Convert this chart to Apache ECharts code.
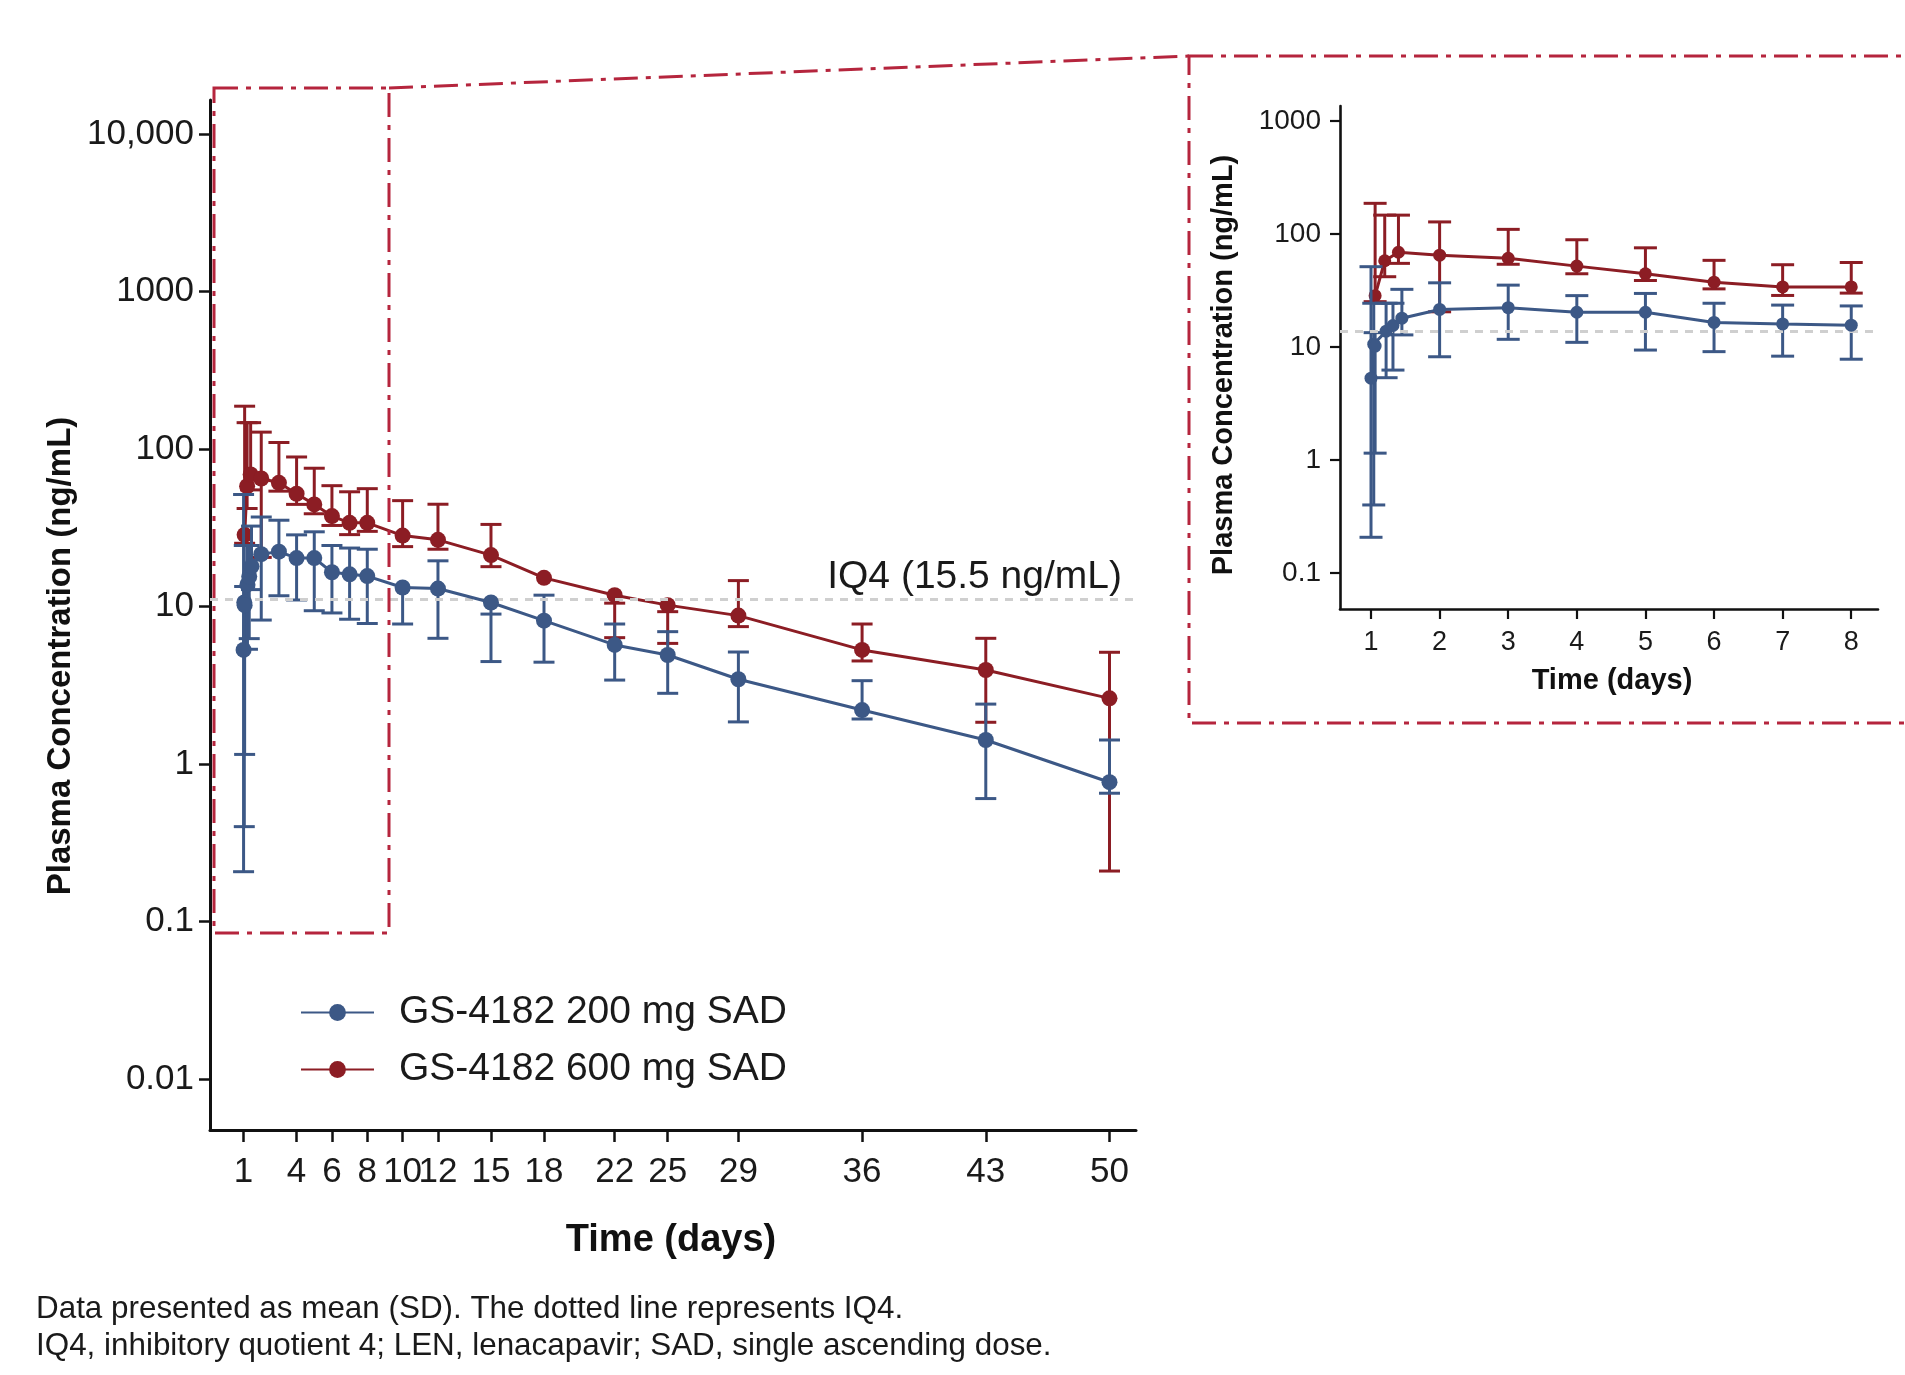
<!DOCTYPE html>
<html><head><meta charset="utf-8">
<script src="https://cdn.jsdelivr.net/npm/echarts@6/dist/echarts.min.js"></script>
<style>html,body{margin:0;padding:0;background:#fff}#c{width:1905px;height:1375px}</style>
</head><body><div id="c"></div>
<script>
// ---------------- data ----------------
const seriesNames = ['GS-4182 200 mg SAD', 'GS-4182 600 mg SAD'];

const blueDays = [1.0, 1.04, 1.06, 1.22, 1.32, 1.45, 2, 3, 4, 5, 6, 7, 8, 10, 12, 15, 18, 22, 25, 29, 36, 43, 50];
const blueMean = [5.3, 10.6, 10.2, 13.8, 15.5, 18.0, 21.5, 22.3, 20.3, 20.3, 16.5, 16.0, 15.6, 13.2, 13.0, 10.6, 8.13, 5.70, 4.92, 3.45, 2.20, 1.42, 0.766];
const blueLow = [0.207, 0.40, 1.15, 5.35, 6.25, 12.8, 8.2, 11.7, 11.0, 9.4, 9.1, 8.3, 7.8, 7.74, 6.28, 4.47, 4.43, 3.41, 2.81, 1.85, 1.93, 0.603, 0.652];
const blueHigh = [51.4, 24.4, 13.4, 24.4, 24.4, 32.4, 37.0, 35.3, 28.5, 29.8, 24.4, 23.5, 23.1, null, 19.5, 8.95, 11.8, 7.74, 6.92, 5.14, 3.38, 2.40, 1.42];

const redDays = [1.06, 1.2, 1.4, 2, 3, 4, 5, 6, 7, 8, 10, 12, 15, 18, 22, 25, 29, 36, 43, 50];
const redMean = [28.5, 58, 69, 65, 61, 52, 44.5, 37.5, 34, 34, 28.2, 26.5, 21.2, 15.2, 11.8, 10.2, 8.75, 5.30, 3.95, 2.61];
const redLow = [25.2, 41.9, 55, 20.5, 54, 44.5, 38.8, 32.7, 28.6, 30, 24.0, 23.1, 17.9, null, 6.34, 5.83, 7.45, 4.51, 1.84, 0.209];
const redHigh = [187, 147, 147, 128, 110, 89, 75.5, 58.5, 53.5, 56, 47.0, 44.6, 33.2, null, 10.5, 9.27, 14.6, 7.74, 6.28, 5.12];

const mainXTicks = [1, 4, 6, 8, 10, 12, 15, 18, 22, 25, 29, 36, 43, 50];
const insetXTicks = [1, 2, 3, 4, 5, 6, 7, 8];
const mainYTicks = [0.01, 0.1, 1, 10, 100, 1000, 10000];
const mainYLabels = ['0.01', '0.1', '1', '10', '100', '1000', '10,000'];
const insetYTicks = [0.1, 1, 10, 100, 1000];
const insetYLabels = ['0.1', '1', '10', '100', '1000'];

const iq4Main = 11.1;
const iq4Inset = 13.9;
const iq4Label = 'IQ4 (15.5 ng/mL)';
const insetMaxDay = 8.3;

// ---------------- styling ----------------
const FONT = 'Liberation Sans, Arial, Helvetica, sans-serif';
const BLUE = '#3c5886';
const RED = '#8c1d24';
const BOX = '#b5253d';
const INK = '#1a1a1a';

function pts(days, vals, maxDay) {
  const out = [];
  days.forEach((d, i) => { if (maxDay == null || d <= maxDay) out.push([d, vals[i]]); });
  return out;
}
function errData(days, mean, low, high, maxDay) {
  const out = [];
  days.forEach((d, i) => {
    if (maxDay != null && d > maxDay) return;
    const m = mean[i];
    out.push([d, low[i] == null ? m : low[i], high[i] == null ? m : high[i], m]);
  });
  return out;
}
function labelFor(ticks, labels) {
  return function (v) {
    let best = 0, bd = Infinity;
    ticks.forEach((t, i) => { const dd = Math.abs(Math.log10(t) - Math.log10(v)); if (dd < bd) { bd = dd; best = i; } });
    return labels[best];
  };
}
function errRender(capHalf, lw, color) {
  return function (params, api) {
    const x = api.value(0), lo = api.value(1), hi = api.value(2), m = api.value(3);
    const pm = api.coord([x, m]);
    const vals = [m, lo, hi];
    const top = api.coord([x, Math.max.apply(null, vals)])[1];
    const bot = api.coord([x, Math.min.apply(null, vals)])[1];
    const children = [{ type: 'line', shape: { x1: pm[0], y1: top, x2: pm[0], y2: bot }, style: { stroke: color, lineWidth: lw } }];
    [lo, hi].forEach(v => {
      if (v !== m) {
        const p = api.coord([x, v]);
        children.push({ type: 'line', shape: { x1: p[0] - capHalf, y1: p[1], x2: p[0] + capHalf, y2: p[1] }, style: { stroke: color, lineWidth: lw } });
      }
    });
    return { type: 'group', children: children };
  };
}

const chart = echarts.init(document.getElementById('c'), null, { renderer: 'canvas' });

const axisLineMain = { show: true, onZero: false, lineStyle: { color: '#111', width: 3 } };
const axisLineInset = { show: true, onZero: false, lineStyle: { color: '#111', width: 2.6 } };

const option = {
  animation: false,
  backgroundColor: '#ffffff',
  textStyle: { fontFamily: FONT },
  grid: [
    { left: 210, top: 100, width: 926, height: 1030, containLabel: false, outerBoundsMode: 'none' },
    { left: 1340, top: 106, width: 538, height: 503, containLabel: false, outerBoundsMode: 'none' }
  ],
  xAxis: [
    {
      gridIndex: 0, type: 'value', min: -0.9, max: 51.5,
      axisLine: axisLineMain,
      axisTick: { show: true, length: 12, lineStyle: { color: '#111', width: 2.5 }, customValues: mainXTicks },
      axisLabel: { show: true, customValues: mainXTicks, fontSize: 35, color: INK, margin: 25, fontFamily: FONT },
      splitLine: { show: false }, minorTick: { show: false }
    },
    {
      gridIndex: 1, type: 'value', min: 0.548, max: 8.39,
      axisLine: axisLineInset,
      axisTick: { show: true, length: 10, lineStyle: { color: '#111', width: 2.2 }, customValues: insetXTicks },
      axisLabel: { show: true, customValues: insetXTicks, fontSize: 27, color: INK, margin: 20, fontFamily: FONT },
      splitLine: { show: false }, minorTick: { show: false }
    }
  ],
  yAxis: [
    {
      gridIndex: 0, type: 'log', logBase: 10, min: 0.00474, max: 16450,
      axisLine: axisLineMain,
      axisTick: { show: true, length: 11, lineStyle: { color: '#111', width: 2.5 }, customValues: mainYTicks },
      axisLabel: { show: true, customValues: mainYTicks, fontSize: 35, color: INK, margin: 16, fontFamily: FONT, formatter: labelFor(mainYTicks, mainYLabels) },
      splitLine: { show: false }, minorTick: { show: false }
    },
    {
      gridIndex: 1, type: 'log', logBase: 10, min: 0.048, max: 1359,
      axisLine: axisLineInset,
      axisTick: { show: true, length: 10, lineStyle: { color: '#111', width: 2.2 }, customValues: insetYTicks },
      axisLabel: { show: true, customValues: insetYTicks, fontSize: 28, color: INK, margin: 19, fontFamily: FONT, formatter: labelFor(insetYTicks, insetYLabels) },
      splitLine: { show: false }, minorTick: { show: false }
    }
  ],
  legend: {
    data: seriesNames,
    orient: 'vertical',
    left: 300, top: 990,
    padding: 0,
    itemWidth: 73, itemHeight: 21, itemGap: 12,
    textStyle: { fontSize: 39, color: INK, fontFamily: FONT, lineHeight: 45, padding: [0, 0, 0, 20] },
    selectedMode: false
  },
  series: [
    {
      name: seriesNames[0], type: 'line', xAxisIndex: 0, yAxisIndex: 0,
      data: pts(blueDays, blueMean), symbol: 'circle', symbolSize: 16,
      itemStyle: { color: BLUE }, lineStyle: { color: BLUE, width: 3 }, z: 5,
      markLine: {
        silent: true, symbol: 'none', animation: false,
        lineStyle: { color: '#cfcfcf', width: 3, type: [8, 7] },
        label: { show: true, position: 'insideEndTop', formatter: iq4Label, fontSize: 39, color: INK, fontFamily: FONT, distance: [14, 3] },
        data: [{ yAxis: iq4Main }]
      }
    },
    {
      name: seriesNames[1], type: 'line', xAxisIndex: 0, yAxisIndex: 0,
      data: pts(redDays, redMean), symbol: 'circle', symbolSize: 16,
      itemStyle: { color: RED }, lineStyle: { color: RED, width: 3 }, z: 3
    },
    {
      name: 'blueSD', type: 'custom', xAxisIndex: 0, yAxisIndex: 0,
      data: errData(blueDays, blueMean, blueLow, blueHigh),
      encode: { x: 0, y: [1, 2, 3] }, renderItem: errRender(10.5, 3, BLUE), z: 4, silent: true
    },
    {
      name: 'redSD', type: 'custom', xAxisIndex: 0, yAxisIndex: 0,
      data: errData(redDays, redMean, redLow, redHigh),
      encode: { x: 0, y: [1, 2, 3] }, renderItem: errRender(10.5, 3, RED), z: 2, silent: true
    },
    // inset
    {
      name: seriesNames[0], type: 'line', xAxisIndex: 1, yAxisIndex: 1,
      data: pts(blueDays, blueMean, insetMaxDay), symbol: 'circle', symbolSize: 13,
      itemStyle: { color: BLUE }, lineStyle: { color: BLUE, width: 3 }, z: 5,
      markLine: {
        silent: true, symbol: 'none', animation: false,
        lineStyle: { color: '#cfcfcf', width: 3, type: [8, 7] },
        label: { show: false },
        data: [{ yAxis: iq4Inset }]
      }
    },
    {
      name: seriesNames[1], type: 'line', xAxisIndex: 1, yAxisIndex: 1,
      data: pts(redDays, redMean, insetMaxDay), symbol: 'circle', symbolSize: 13,
      itemStyle: { color: RED }, lineStyle: { color: RED, width: 3 }, z: 3
    },
    {
      name: 'blueSDi', type: 'custom', xAxisIndex: 1, yAxisIndex: 1,
      data: errData(blueDays, blueMean, blueLow, blueHigh, insetMaxDay),
      encode: { x: 0, y: [1, 2, 3] }, renderItem: errRender(11.5, 3, BLUE), z: 4, silent: true
    },
    {
      name: 'redSDi', type: 'custom', xAxisIndex: 1, yAxisIndex: 1,
      data: errData(redDays, redMean, redLow, redHigh, insetMaxDay),
      encode: { x: 0, y: [1, 2, 3] }, renderItem: errRender(11.5, 3, RED), z: 2, silent: true
    }
  ],
  graphic: [
    { type: 'text', x: 61, y: 656, rotation: Math.PI / 2, style: { text: 'Plasma Concentration (ng/mL)', font: 'bold 33px ' + FONT, fill: '#111', align: 'center', verticalAlign: 'middle' } },
    { type: 'text', x: 671, y: 1241, style: { text: 'Time (days)', font: 'bold 38px ' + FONT, fill: '#111', align: 'center', verticalAlign: 'middle' } },
    { type: 'text', x: 1224, y: 365, rotation: Math.PI / 2, style: { text: 'Plasma Concentration (ng/mL)', font: 'bold 29px ' + FONT, fill: '#111', align: 'center', verticalAlign: 'middle' } },
    { type: 'text', x: 1612, y: 681, style: { text: 'Time (days)', font: 'bold 29px ' + FONT, fill: '#111', align: 'center', verticalAlign: 'middle' } },
    { type: 'text', x: 36, y: 1309, style: { text: 'Data presented as mean (SD). The dotted line represents IQ4.', font: '31.4px ' + FONT, fill: INK, align: 'left', verticalAlign: 'middle' } },
    { type: 'text', x: 36, y: 1346, style: { text: 'IQ4, inhibitory quotient 4; LEN, lenacapavir; SAD, single ascending dose.', font: '31.4px ' + FONT, fill: INK, align: 'left', verticalAlign: 'middle' } },
    { type: 'rect', shape: { x: 214, y: 88, width: 175, height: 845 }, style: { fill: 'none', stroke: BOX, lineWidth: 3, lineDash: [24, 8, 5, 8] }, z: 100 },
    { type: 'line', shape: { x1: 389, y1: 88, x2: 1189, y2: 56 }, style: { stroke: BOX, lineWidth: 3, lineDash: [24, 8, 5, 8] }, z: 100 },
    { type: 'rect', shape: { x: 1189, y: 56, width: 760, height: 667 }, style: { fill: 'none', stroke: BOX, lineWidth: 3, lineDash: [24, 8, 5, 8] }, z: 100 }
  ]
};
chart.setOption(option);
</script>
</body></html>
